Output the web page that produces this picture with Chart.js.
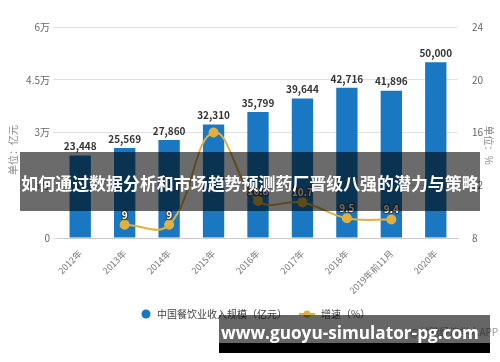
<!DOCTYPE html>
<html><head><meta charset="utf-8">
<script src="https://cdn.jsdelivr.net/npm/chart.js@4"></script>
<style>html,body{margin:0;padding:0;background:#fff}#w{position:relative;width:500px;height:362px}</style>
</head><body><div id="w"><canvas id="c" width="500" height="362"></canvas></div>
<script>
const categories = ['2012年','2013年','2014年','2015年','2016年','2017年','2018年','2019年前11月','2020年'];
const revenue = [23448, 25569, 27860, 32310, 35799, 39644, 42716, 41896, 50000];
const growth = [null, 9, 9, 16, 10.8, 10.7, 9.5, 9.4, null];
const leftTicks = [0, 15000, 30000, 45000, 60000];
const rightTicks = [8, 12, 16, 20, 24];
const seriesNames = ['中国餐饮业收入规模（亿元）', '增速（%）'];
const bannerText = '如何通过数据分析和市场趋势预测药厂晋级八强的潜力与策略';
const siteText = 'www.guoyu-simulator-pg.com';

const FONT = '"Noto Sans CJK SC", "Noto Sans", sans-serif';
const BLUE = '#1a78c2', GOLD = '#e3b03e';

function fitFont(ctx, text, weight, family, width) {
  ctx.font = weight + ' 20px ' + family;
  const w = ctx.measureText(text).width;
  const size = 20 * width / w;
  ctx.font = weight + ' ' + size.toFixed(2) + 'px ' + family;
}

const overlay = {
  id: 'overlay',
  afterDatasetsDraw(chart) {
    const ctx = chart.ctx;
    const bm = chart.getDatasetMeta(0);
    ctx.save();
    ctx.font = 'bold 10px ' + FONT;
    ctx.fillStyle = '#333';
    ctx.textAlign = 'center'; ctx.textBaseline = 'bottom';
    bm.data.forEach((el, i) => {
      ctx.fillText(revenue[i].toLocaleString('en-US'), el.x, el.y - 4);
    });
    const lm = chart.getDatasetMeta(1);
    ctx.font = 'bold 10px ' + FONT;
    ctx.lineWidth = 2.5; ctx.strokeStyle = 'rgba(60,60,60,0.8)'; ctx.fillStyle = '#fff';
    ctx.lineJoin = 'round';
    lm.data.forEach((el, i) => {
      if (growth[i] == null || i === 3) return;
      ctx.strokeText(String(growth[i]), el.x, el.y - 5);
      ctx.fillText(String(growth[i]), el.x, el.y - 5);
    });
    ctx.restore();
  },
  afterDraw(chart) {
    const ctx = chart.ctx;
    ctx.save();
    ctx.font = '10px ' + FONT; ctx.fillStyle = '#888';
    ctx.textAlign = 'center'; ctx.textBaseline = 'middle';
    ctx.translate(13, 150); ctx.rotate(-Math.PI/2); ctx.fillText('单位：亿元', 0, 0);
    ctx.setTransform(1,0,0,1,0,0);
    ctx.translate(489, 145); ctx.rotate(Math.PI/2); ctx.fillText('单位：%', 0, 0);
    ctx.setTransform(1,0,0,1,0,0);
    // legend
    ctx.font = '10px ' + FONT; ctx.textAlign = 'left';
    ctx.fillStyle = BLUE; ctx.beginPath(); ctx.arc(146, 314, 4.5, 0, Math.PI*2); ctx.fill();
    ctx.fillStyle = '#444'; ctx.fillText(seriesNames[0], 157, 314);
    ctx.strokeStyle = GOLD; ctx.lineWidth = 2; ctx.beginPath(); ctx.moveTo(299, 314); ctx.lineTo(315, 314); ctx.stroke();
    ctx.fillStyle = GOLD; ctx.beginPath(); ctx.arc(307, 314, 3.5, 0, Math.PI*2); ctx.fill();
    ctx.fillStyle = '#444'; ctx.fillText(seriesNames[1], 321, 314);
    ctx.font = '10px ' + FONT; ctx.fillStyle = '#999'; ctx.fillText('@前瞻经济学人APP', 410, 332);
    // banner
    ctx.fillStyle = 'rgba(0,0,0,0.58)';
    ctx.fillRect(20, 152, 460, 59);
    fitFont(ctx, bannerText, 'bold', FONT, 458);
    ctx.fillStyle = '#fff';
    ctx.textAlign = 'center'; ctx.textBaseline = 'middle';
    ctx.fillText(bannerText, 250, 184);
    // bottom site banner
    ctx.fillStyle = 'rgba(0,0,0,0.6)'; ctx.fillRect(219, 315, 271, 28);
    ctx.fillStyle = '#000'; ctx.fillRect(219, 343, 271, 10);
    fitFont(ctx, siteText, 'bold', '"Open Sans", "DejaVu Sans", sans-serif', 258);
    ctx.fillStyle = '#fff';
    ctx.textAlign = 'left'; ctx.textBaseline = 'alphabetic';
    ctx.fillText(siteText, 221, 339);
    ctx.restore();
  }
};

new Chart(document.getElementById('c'), {
  data: {
    labels: categories,
    datasets: [
      { type: 'bar', label: seriesNames[0], data: revenue, yAxisID: 'y', backgroundColor: BLUE,
        categoryPercentage: 1, barPercentage: 0.48, order: 2 },
      { type: 'line', label: seriesNames[1], data: growth, yAxisID: 'y1', borderColor: GOLD, backgroundColor: GOLD,
        borderWidth: 2, tension: 0.4, pointRadius: 4, pointBorderColor: GOLD, pointBackgroundColor: GOLD, order: 1, spanGaps: false }
    ]
  },
  options: {
    responsive: false, animation: false,
    layout: { padding: { top: 27, left: 0, right: 0, bottom: 0 } },
    plugins: { legend: { display: false }, tooltip: { enabled: false } },
    scales: {
      x: {
        grid: { display: false }, border: { color: '#ccc' },
        ticks: { color: '#777', font: { size: 9, family: FONT }, maxRotation: 45, minRotation: 45, padding: 2 },
        afterFit(s) { s.height = 124; }
      },
      y: {
        position: 'left', min: 0, max: 60000,
        afterBuildTicks(s) { s.ticks = leftTicks.map(v => ({ value: v })); },
        ticks: { color: '#666', font: { size: 10, family: FONT }, callback: v => v === 0 ? '0' : (v / 10000) + '万' },
        grid: { color: '#e2e2e2', tickLength: 5, drawTicks: true }, border: { display: false },
        afterFit(s) { s.width = 58; }
      },
      y1: {
        position: 'right', min: 8, max: 24,
        afterBuildTicks(s) { s.ticks = rightTicks.map(v => ({ value: v })); },
        ticks: { color: '#666', font: { size: 10, family: FONT }, padding: 6 },
        grid: { display: false }, border: { display: false },
        afterFit(s) { s.width = 42; }
      }
    }
  },
  plugins: [overlay]
});
</script></body></html>
